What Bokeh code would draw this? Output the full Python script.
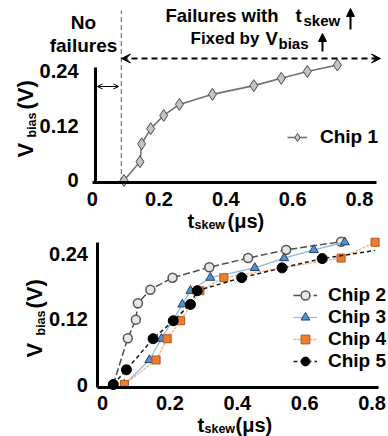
from bokeh.plotting import figure
from bokeh.models import (Label, Arrow, VeeHead, NormalHead, OpenHead, Legend,
                          LegendItem, Range1d, FixedTicker)
from bokeh.layouts import column
from bokeh.embed import file_html
from bokeh.resources import INLINE
import math

# ---------------- data ----------------
x_ticks = [0, 0.2, 0.4, 0.6, 0.8]
x_tick_labels = ["0", "0.2", "0.4", "0.6", "0.8"]
y_ticks = [0, 0.12, 0.24]
y_tick_labels = ["0", "0.12", "0.24"]

no_fail_limit = 0.087   # t_skew boundary of the "No failures" zone

chip1_t = [0.095, 0.143, 0.148, 0.175, 0.214, 0.261, 0.360, 0.484, 0.566, 0.644, 0.734]
chip1_v = [0.000, 0.041, 0.080, 0.113, 0.142, 0.166, 0.188, 0.207, 0.223, 0.238, 0.252]

chip2_t = [0.032, 0.075, 0.099, 0.105, 0.142, 0.208, 0.317, 0.432, 0.545, 0.708]
chip2_v = [0.000, 0.085, 0.119, 0.149, 0.174, 0.196, 0.215, 0.232, 0.247, 0.262]
chip3_t = [0.065, 0.139, 0.175, 0.237, 0.261, 0.320, 0.452, 0.539, 0.627, 0.719]
chip3_v = [0.000, 0.045, 0.084, 0.147, 0.172, 0.196, 0.214, 0.232, 0.247, 0.261]
chip4_t = [0.065, 0.159, 0.192, 0.232, 0.289, 0.360, 0.708, 0.809]
chip4_v = [0.000, 0.045, 0.084, 0.117, 0.172, 0.196, 0.232, 0.261]
chip5_t = [0.032, 0.071, 0.150, 0.210, 0.261, 0.281, 0.413, 0.533, 0.652, 0.809]
chip5_v = [0.000, 0.027, 0.084, 0.117, 0.147, 0.172, 0.196, 0.214, 0.231, 0.246]

FONT = "Liberation Sans"
W = 388


def make_fig(h, xr, yr):
    p = figure(width=W, height=h, x_range=Range1d(*xr), y_range=Range1d(*yr),
               output_backend="svg", toolbar_location=None, min_border=0,
               min_border_left=0, min_border_right=0, min_border_top=0,
               min_border_bottom=0)
    p.grid.visible = False
    p.outline_line_color = None
    return p


def style_axes(p, x_fixed, y_fixed, x_bounds, y_bounds, y_standoff, x_standoff):
    p.xaxis.ticker = FixedTicker(ticks=x_ticks)
    p.yaxis.ticker = FixedTicker(ticks=y_ticks)
    p.xaxis.major_label_overrides = dict(zip(x_ticks, x_tick_labels))
    p.yaxis.major_label_overrides = dict(zip(y_ticks, y_tick_labels))
    p.xaxis.fixed_location = x_fixed
    p.yaxis.fixed_location = y_fixed
    p.xaxis.bounds = x_bounds
    p.yaxis.bounds = y_bounds
    p.yaxis.major_label_standoff = y_standoff
    p.xaxis.major_label_standoff = x_standoff
    for ax in (p.xaxis[0], p.yaxis[0]):
        ax.axis_line_width = 3
        ax.axis_line_color = "black"
        ax.major_tick_line_color = None
        ax.minor_tick_line_color = None
        ax.major_tick_out = 0
        ax.major_tick_in = 0
        ax.minor_tick_out = 0
        ax.major_label_text_font = FONT
        ax.major_label_text_font_style = "bold"
        ax.major_label_text_font_size = "20px"
        ax.major_label_text_color = "black"


def lab(p, text, x, y, size, align="left", angle=0.0):
    p.add_layout(Label(x=x, y=y, x_units="screen", y_units="screen", text=text,
                       text_font=FONT, text_font_style="bold", text_font_size=size,
                       text_color="black", text_align=align, text_baseline="middle",
                       angle=angle))


def style_legend(leg, gw, gh, standoff):
    leg.border_line_color = None
    leg.background_fill_alpha = 0
    leg.padding = 0
    leg.margin = 0
    leg.spacing = 0
    leg.glyph_width = gw
    leg.glyph_height = gh
    leg.label_height = gh
    leg.label_standoff = standoff
    leg.label_text_font = FONT
    leg.label_text_font_style = "bold"
    leg.label_text_font_size = "19px"
    leg.label_text_color = "black"


# ---------------- top chart ----------------
p1 = make_fig(232, (-0.2746, 0.8871), (-0.1135, 0.3928))
style_axes(p1, -0.0033, 0.0099, (0, 0.851), (-0.0033, 0.2466), 17, 10)

p1.segment(x0=[no_fail_limit], y0=[-0.0033], x1=[no_fail_limit], y1=[0.371],
           line_color="#555555", line_width=1, line_dash="5 3")

r1 = p1.line(chip1_t, chip1_v, line_color="#707070", line_width=1.6)
s1 = p1.scatter(chip1_t, chip1_v, marker="diamond", size=12, fill_color="#c4c4c4",
                line_color="#4a4a4a", line_width=1)

leg1 = Legend(items=[LegendItem(label="Chip 1", renderers=[r1, s1])], location=(287, 84))
style_legend(leg1, 20, 20, 13)
p1.add_layout(leg1)

# arrows (screen units, frame = whole figure)
p1.add_layout(Arrow(start=VeeHead(size=9, fill_color="black", line_color="black"),
                    end=VeeHead(size=9, fill_color="black", line_color="black"),
                    x_start=121, y_start=174, x_end=380, y_end=174,
                    start_units="screen", end_units="screen",
                    line_dash="6 4", line_width=1.8, line_color="black"))
p1.add_layout(Arrow(start=OpenHead(size=5, line_width=1), end=OpenHead(size=5, line_width=1),
                    x_start=97, y_start=146, x_end=118, y_end=146,
                    start_units="screen", end_units="screen", line_width=1))
p1.add_layout(Arrow(end=NormalHead(size=8, fill_color="black", line_color="black"),
                    x_start=350, y_start=203, x_end=350, y_end=224,
                    start_units="screen", end_units="screen", line_width=2))
p1.add_layout(Arrow(end=NormalHead(size=8, fill_color="black", line_color="black"),
                    x_start=322, y_start=181, x_end=322, y_end=199,
                    start_units="screen", end_units="screen", line_width=2))

# annotation texts
lab(p1, "No", 83, 210, "19px", align="center")
lab(p1, "failures", 83, 187, "19px", align="center")
lab(p1, "Failures with", 165, 217, "18.5px")
lab(p1, "t", 295, 217, "18.5px")
lab(p1, "skew", 303, 212, "15px")
lab(p1, "Fixed by", 190, 194, "17px")
lab(p1, "V", 265, 194, "18.5px")
lab(p1, "bias", 278, 189, "15px")

# axis titles
lab(p1, "t", 187, 12, "20px")
lab(p1, "skew", 194, 8, "12.5px")
lab(p1, "(\u03bcs)", 227, 12, "20px")
lab(p1, "V", 25, 75, "22px", angle=math.pi / 2)
lab(p1, "bias", 31, 95, "12.5px", angle=math.pi / 2)
lab(p1, "(V)", 25, 123, "22px", angle=math.pi / 2)

# ---------------- bottom chart ----------------
p2 = make_fig(204, (-0.3027, 0.8487), (-0.0954, 0.2789))
style_axes(p2, -0.0046, -0.0134, (-0.0134, 0.819), (-0.0046, 0.261), 10, 9)

l2 = p2.line(chip2_t, chip2_v, line_color="#4d4d4d", line_width=1.5, line_dash="7 3")
m2 = p2.scatter(chip2_t, chip2_v, marker="circle", size=9, fill_color="#e6e6e6",
                line_color="#555555", line_width=1.5)
l3 = p2.line(chip3_t, chip3_v, line_color="#90b9e2", line_width=1.3)
m3 = p2.scatter(chip3_t, chip3_v, marker="triangle", size=9, fill_color="#5b8fc9",
                line_color="#1f3f6f", line_width=1)
l4 = p2.line(chip4_t, chip4_v, line_color="#f2b083", line_width=1.3, line_dash="3 1")
m4 = p2.scatter(chip4_t, chip4_v, marker="square", size=8, fill_color="#ed7d31",
                line_color="#b5541a", line_width=1)
l5 = p2.line(chip5_t, chip5_v, line_color="#1a1a1a", line_width=1.5, line_dash="4 3")
m5 = p2.scatter(chip5_t[:-1], chip5_v[:-1], marker="circle", size=10, fill_color="black",
                line_color="black", line_width=1)

leg2 = Legend(items=[LegendItem(label="Chip 2", renderers=[l2, m2]),
                     LegendItem(label="Chip 3", renderers=[l3, m3]),
                     LegendItem(label="Chip 4", renderers=[l4, m4]),
                     LegendItem(label="Chip 5", renderers=[l5, m5])],
              location=(293, 64))
style_legend(leg2, 24, 22, 11)
p2.add_layout(leg2)

lab(p2, "t", 197, 12, "20px")
lab(p2, "skew", 204, 8, "12.5px")
lab(p2, "(\u03bcs)", 235, 12, "20px")
lab(p2, "V", 34, 79, "22px", angle=math.pi / 2)
lab(p2, "bias", 40, 101, "12.5px", angle=math.pi / 2)
lab(p2, "(V)", 34, 128, "22px", angle=math.pi / 2)

layout = column(p1, p2)
open("out.html", "w").write(file_html(layout, INLINE))
